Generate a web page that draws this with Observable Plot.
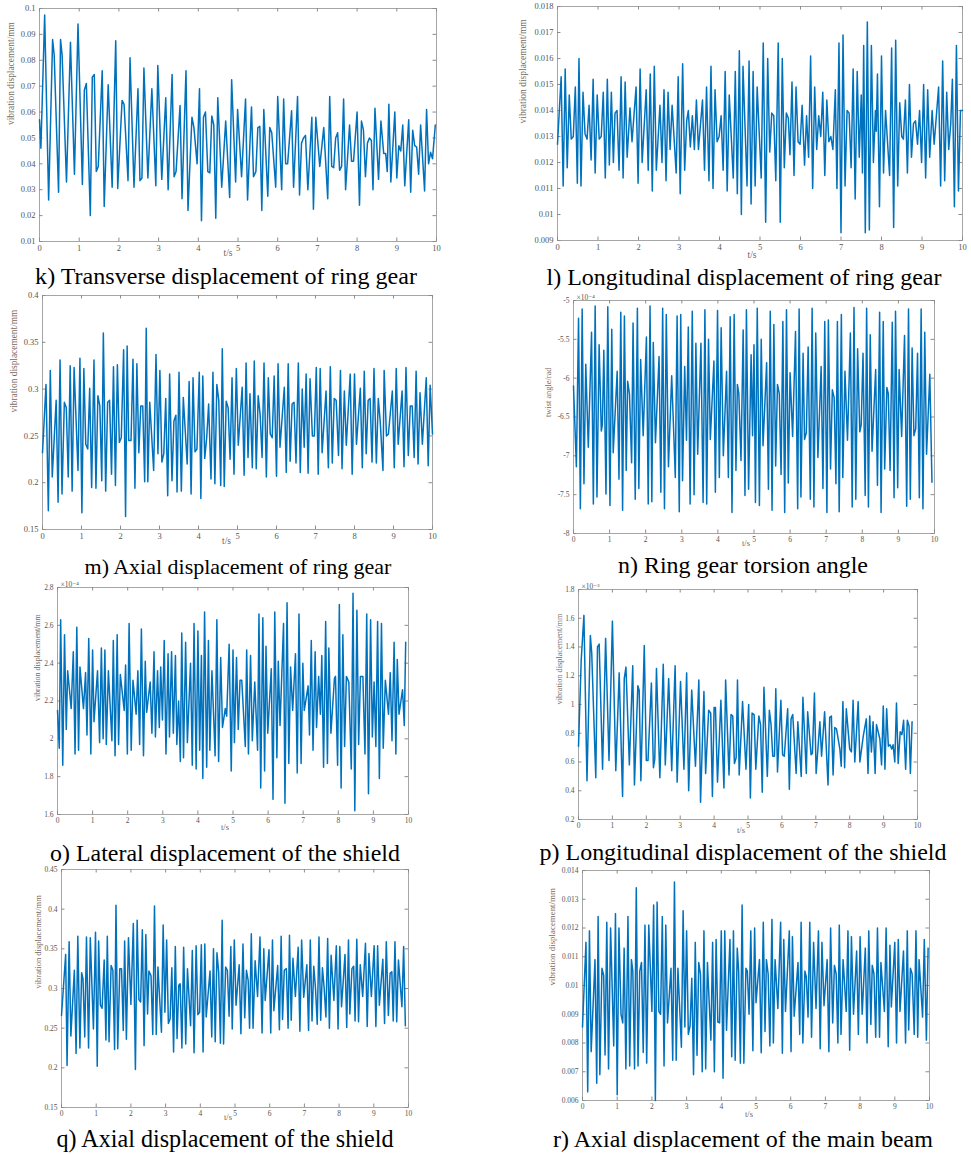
<!DOCTYPE html>
<html>
<head>
<meta charset="utf-8">
<script src="https://cdn.jsdelivr.net/npm/d3@7"></script>
<script src="https://cdn.jsdelivr.net/npm/@observablehq/plot@0.6"></script>
<style>
  html, body { margin: 0; padding: 0; background: #fff; }
  #root { position: relative; width: 971px; height: 1154px; background: #fff; overflow: hidden; }
  .panel { position: absolute; }
  .cap { position: absolute; transform: translate(-50%, -50%); white-space: nowrap;
         font-family: "Liberation Serif", "Times New Roman", "DejaVu Serif", serif; font-size: 24px; color: #000; }
</style>
</head>
<body>
<div id="root"></div>
<script>
// ---------- shared ticks ----------
const xTicks = [0, 1, 2, 3, 4, 5, 6, 7, 8, 9, 10];

// ---------- k) Transverse displacement of ring gear (mm) ----------
const kYTicks = [0.01, 0.02, 0.03, 0.04, 0.05, 0.06, 0.07, 0.08, 0.09, 0.1];
const kData = [[0,0.057],[0.035,0.046],[0.13,0.0975],[0.23,0.026],[0.33,0.088],[0.37,0.082],[0.48,0.029],[0.53,0.088],[0.57,0.082],[0.68,0.033],[0.78,0.087],[0.88,0.036],[0.97,0.094],[1.08,0.032],[1.13,0.0685],[1.18,0.071],[1.28,0.020],[1.33,0.0735],[1.38,0.0745],[1.43,0.037],[1.48,0.039],[1.58,0.076],[1.63,0.0235],[1.73,0.0705],[1.83,0.031],[1.92,0.0875],[1.97,0.0305],[2.08,0.0645],[2.13,0.063],[2.23,0.0335],[2.28,0.081],[2.38,0.031],[2.48,0.069],[2.53,0.0335],[2.58,0.0345],[2.63,0.077],[2.73,0.0345],[2.83,0.069],[2.93,0.0315],[2.98,0.078],[3.08,0.034],[3.18,0.0655],[3.24,0.030],[3.34,0.0745],[3.39,0.035],[3.44,0.037],[3.54,0.0625],[3.59,0.0265],[3.69,0.076],[3.74,0.022],[3.84,0.058],[3.89,0.054],[3.97,0.040],[4.03,0.069],[4.08,0.018],[4.13,0.058],[4.18,0.060],[4.24,0.037],[4.29,0.0365],[4.34,0.0585],[4.39,0.055],[4.44,0.019],[4.49,0.0655],[4.59,0.031],[4.69,0.0565],[4.79,0.027],[4.84,0.0725],[4.94,0.033],[4.99,0.061],[5.09,0.035],[5.19,0.065],[5.24,0.026],[5.34,0.062],[5.39,0.035],[5.45,0.037],[5.5,0.054],[5.55,0.0545],[5.6,0.022],[5.65,0.061],[5.75,0.0275],[5.8,0.054],[5.85,0.052],[5.95,0.031],[6.0,0.066],[6.1,0.030],[6.15,0.065],[6.2,0.040],[6.25,0.040],[6.35,0.0605],[6.4,0.031],[6.5,0.066],[6.55,0.028],[6.6,0.048],[6.65,0.050],[6.7,0.051],[6.76,0.030],[6.86,0.058],[6.9,0.0225],[6.96,0.058],[7.06,0.039],[7.16,0.054],[7.26,0.0265],[7.31,0.066],[7.36,0.039],[7.41,0.0385],[7.46,0.050],[7.51,0.052],[7.56,0.0375],[7.61,0.039],[7.66,0.065],[7.71,0.030],[7.81,0.055],[7.86,0.041],[7.91,0.041],[8.0,0.060],[8.06,0.024],[8.11,0.0565],[8.16,0.053],[8.21,0.035],[8.26,0.048],[8.31,0.050],[8.36,0.049],[8.4,0.030],[8.45,0.0615],[8.54,0.034],[8.6,0.0565],[8.67,0.044],[8.72,0.044],[8.76,0.037],[8.8,0.063],[8.85,0.033],[8.95,0.060],[9.0,0.0345],[9.05,0.047],[9.1,0.045],[9.15,0.055],[9.2,0.0315],[9.3,0.057],[9.35,0.029],[9.4,0.053],[9.45,0.047],[9.5,0.0465],[9.55,0.036],[9.6,0.055],[9.7,0.0295],[9.75,0.061],[9.8,0.040],[9.85,0.0445],[9.9,0.042],[9.97,0.055]];

// ---------- l) Longitudinal displacement of ring gear (mm) ----------
const lYTicks = [0.009, 0.01, 0.011, 0.012, 0.013, 0.014, 0.015, 0.016, 0.017, 0.018];
const lData = [[0,0.0127],[0.09,0.0153],[0.14,0.0111],[0.19,0.0156],[0.24,0.0118],[0.29,0.0146],[0.34,0.0129],[0.39,0.0130],[0.44,0.0149],[0.49,0.0112],[0.53,0.0160],[0.58,0.0111],[0.63,0.0147],[0.68,0.0131],[0.73,0.0129],[0.78,0.0142],[0.83,0.0121],[0.88,0.0152],[0.93,0.0116],[0.98,0.0146],[1.03,0.0129],[1.08,0.0130],[1.13,0.0147],[1.18,0.0114],[1.23,0.0152],[1.28,0.0119],[1.33,0.0147],[1.38,0.0120],[1.42,0.0139],[1.47,0.0140],[1.52,0.0117],[1.57,0.0153],[1.62,0.0114],[1.67,0.0151],[1.72,0.0122],[1.79,0.0141],[1.84,0.0128],[1.94,0.0149],[1.99,0.0112],[2.04,0.0156],[2.09,0.0120],[2.19,0.0148],[2.24,0.0117],[2.29,0.0154],[2.34,0.0109],[2.39,0.0157],[2.44,0.0117],[2.53,0.0142],[2.58,0.0120],[2.63,0.0148],[2.68,0.0113],[2.73,0.0147],[2.78,0.0125],[2.83,0.0142],[2.93,0.0116],[2.98,0.0153],[3.03,0.0108],[3.09,0.0158],[3.14,0.0117],[3.19,0.0136],[3.23,0.0140],[3.28,0.0126],[3.33,0.0138],[3.38,0.0125],[3.43,0.0144],[3.48,0.0125],[3.58,0.0144],[3.63,0.0117],[3.68,0.0149],[3.74,0.0113],[3.79,0.0157],[3.84,0.0110],[3.89,0.0148],[3.94,0.0128],[3.99,0.0130],[4.04,0.0138],[4.09,0.0117],[4.14,0.0155],[4.19,0.0109],[4.24,0.0146],[4.34,0.0114],[4.39,0.0155],[4.44,0.0108],[4.49,0.0163],[4.54,0.0100],[4.58,0.0157],[4.68,0.0111],[4.73,0.0159],[4.78,0.0104],[4.83,0.0155],[4.88,0.0111],[4.93,0.0149],[5.03,0.0114],[5.08,0.0166],[5.14,0.0097],[5.19,0.0160],[5.24,0.0124],[5.29,0.0139],[5.34,0.0138],[5.39,0.0113],[5.45,0.0166],[5.50,0.0097],[5.55,0.0160],[5.60,0.0118],[5.65,0.0139],[5.70,0.0137],[5.74,0.0123],[5.79,0.0151],[5.84,0.0115],[5.89,0.0149],[5.94,0.0128],[5.99,0.0127],[6.04,0.0142],[6.1,0.0119],[6.15,0.0138],[6.2,0.0122],[6.25,0.0161],[6.3,0.0110],[6.35,0.0149],[6.4,0.0125],[6.45,0.0138],[6.5,0.0130],[6.55,0.0147],[6.6,0.0115],[6.65,0.0144],[6.7,0.0128],[6.75,0.0130],[6.8,0.0125],[6.86,0.0148],[6.9,0.0110],[6.95,0.0166],[7.0,0.0093],[7.05,0.0169],[7.1,0.0111],[7.15,0.0140],[7.2,0.0139],[7.25,0.0118],[7.3,0.0156],[7.35,0.0106],[7.4,0.0155],[7.45,0.0122],[7.5,0.0146],[7.53,0.0116],[7.56,0.0165],[7.6,0.0093],[7.65,0.0174],[7.7,0.0094],[7.75,0.0165],[7.8,0.0120],[7.85,0.0140],[7.87,0.0132],[7.9,0.0154],[7.95,0.0103],[8.0,0.0161],[8.05,0.0116],[8.1,0.0140],[8.2,0.0115],[8.25,0.0164],[8.3,0.0095],[8.35,0.0167],[8.4,0.0111],[8.45,0.0143],[8.5,0.0130],[8.54,0.0129],[8.59,0.0144],[8.64,0.0116],[8.69,0.0150],[8.74,0.0122],[8.79,0.0135],[8.84,0.0136],[8.89,0.0127],[8.94,0.0140],[8.99,0.0120],[9.04,0.0150],[9.09,0.0114],[9.14,0.0148],[9.19,0.0122],[9.25,0.0140],[9.3,0.0127],[9.41,0.0149],[9.46,0.0111],[9.51,0.0159],[9.56,0.0113],[9.61,0.0147],[9.66,0.0125],[9.71,0.0135],[9.75,0.0152],[9.8,0.0103],[9.85,0.0165],[9.9,0.0109],[9.95,0.0140],[10,0.0140]];

// ---------- m) Axial displacement of ring gear (mm) ----------
const mYTicks = [0.15, 0.2, 0.25, 0.3, 0.35, 0.4];
const mData = [[0,0.232],[0.09,0.305],[0.15,0.17],[0.2,0.32],[0.25,0.206],[0.35,0.288],[0.4,0.179],[0.45,0.331],[0.5,0.188],[0.56,0.286],[0.61,0.28],[0.66,0.206],[0.71,0.325],[0.76,0.191],[0.81,0.323],[0.91,0.213],[0.96,0.333],[1.01,0.168],[1.06,0.322],[1.11,0.241],[1.16,0.236],[1.21,0.301],[1.26,0.195],[1.32,0.331],[1.37,0.194],[1.42,0.293],[1.47,0.282],[1.52,0.202],[1.56,0.36],[1.62,0.191],[1.67,0.286],[1.72,0.288],[1.77,0.209],[1.82,0.324],[1.87,0.197],[1.92,0.326],[1.97,0.243],[2.02,0.248],[2.08,0.342],[2.13,0.164],[2.17,0.346],[2.21,0.245],[2.27,0.245],[2.32,0.332],[2.37,0.194],[2.42,0.327],[2.47,0.232],[2.52,0.282],[2.57,0.282],[2.62,0.201],[2.66,0.365],[2.7,0.201],[2.75,0.286],[2.85,0.213],[2.91,0.337],[2.96,0.231],[3.01,0.32],[3.06,0.222],[3.11,0.231],[3.16,0.29],[3.21,0.186],[3.26,0.316],[3.32,0.202],[3.37,0.266],[3.42,0.272],[3.45,0.19],[3.5,0.318],[3.56,0.191],[3.61,0.291],[3.71,0.22],[3.76,0.308],[3.81,0.188],[3.86,0.312],[3.91,0.233],[3.96,0.236],[4.02,0.318],[4.06,0.183],[4.11,0.314],[4.16,0.226],[4.21,0.248],[4.26,0.284],[4.32,0.204],[4.37,0.318],[4.42,0.199],[4.47,0.305],[4.52,0.288],[4.57,0.197],[4.61,0.343],[4.66,0.196],[4.71,0.287],[4.76,0.28],[4.81,0.225],[4.86,0.312],[4.91,0.209],[4.97,0.322],[5.02,0.24],[5.12,0.302],[5.17,0.208],[5.22,0.328],[5.27,0.227],[5.32,0.295],[5.38,0.216],[5.43,0.33],[5.48,0.215],[5.53,0.293],[5.58,0.273],[5.63,0.227],[5.68,0.328],[5.74,0.206],[5.79,0.312],[5.84,0.252],[5.89,0.248],[5.94,0.314],[6.0,0.207],[6.04,0.327],[6.09,0.238],[6.2,0.302],[6.25,0.211],[6.3,0.327],[6.35,0.223],[6.4,0.284],[6.45,0.286],[6.5,0.221],[6.56,0.328],[6.61,0.211],[6.66,0.3],[6.71,0.238],[6.76,0.316],[6.81,0.21],[6.86,0.311],[6.92,0.25],[6.97,0.25],[7.02,0.323],[7.07,0.209],[7.12,0.322],[7.17,0.232],[7.27,0.298],[7.33,0.216],[7.38,0.324],[7.43,0.221],[7.48,0.29],[7.53,0.288],[7.59,0.229],[7.64,0.32],[7.68,0.215],[7.74,0.298],[7.79,0.24],[7.89,0.316],[7.94,0.209],[8.0,0.316],[8.05,0.241],[8.15,0.301],[8.2,0.216],[8.25,0.319],[8.3,0.231],[8.35,0.288],[8.4,0.29],[8.45,0.222],[8.5,0.322],[8.56,0.221],[8.61,0.29],[8.66,0.265],[8.73,0.213],[8.76,0.32],[8.82,0.25],[8.87,0.252],[8.97,0.298],[9.02,0.216],[9.07,0.322],[9.12,0.241],[9.22,0.298],[9.27,0.217],[9.32,0.323],[9.38,0.229],[9.43,0.282],[9.48,0.282],[9.53,0.227],[9.58,0.319],[9.63,0.22],[9.68,0.296],[9.74,0.241],[9.84,0.312],[9.89,0.218],[9.94,0.304],[10,0.252]];

// ---------- n) Ring gear torsion angle (rad, x10^-4) ----------
const nYTicks = [-8, -7.5, -7, -6.5, -6, -5.5, -5];
const nData = [[0,-6.10],[0.08,-7.14],[0.14,-5.23],[0.19,-7.68],[0.24,-5.11],[0.29,-7.36],[0.34,-5.82],[0.41,-6.89],[0.5,-5.41],[0.55,-7.62],[0.6,-5.07],[0.65,-7.53],[0.71,-5.57],[0.77,-6.68],[0.8,-6.6],[0.84,-5.64],[0.9,-7.49],[0.95,-5.08],[1.01,-7.64],[1.06,-5.37],[1.1,-6.96],[1.21,-5.91],[1.26,-7.3],[1.31,-5.15],[1.36,-7.7],[1.41,-5.2],[1.46,-7.19],[1.5,-6.04],[1.55,-6.2],[1.61,-7.09],[1.65,-5.29],[1.71,-7.56],[1.77,-5.1],[1.81,-7.42],[1.86,-5.76],[1.93,-6.74],[2.02,-5.47],[2.07,-7.62],[2.12,-5.07],[2.17,-7.59],[2.21,-5.54],[2.27,-6.83],[2.37,-5.72],[2.42,-7.47],[2.47,-5.1],[2.52,-7.68],[2.57,-5.18],[2.63,-7.14],[2.72,-5.97],[2.82,-7.28],[2.87,-5.2],[2.93,-7.72],[2.97,-5.18],[3.02,-7.32],[3.08,-5.85],[3.13,-6.8],[3.18,-5.34],[3.23,-7.62],[3.29,-5.14],[3.34,-7.5],[3.39,-5.55],[3.44,-6.98],[3.53,-5.55],[3.59,-7.6],[3.64,-5.12],[3.69,-7.62],[3.74,-5.5],[3.79,-6.79],[3.89,-5.78],[3.93,-7.47],[3.99,-5.13],[4.04,-7.28],[4.09,-5.35],[4.15,-7.0],[4.24,-5.91],[4.29,-7.28],[4.34,-5.21],[4.39,-7.73],[4.45,-5.18],[4.5,-7.19],[4.54,-6.08],[4.58,-6.2],[4.64,-7.06],[4.7,-5.38],[4.75,-7.51],[4.79,-5.12],[4.85,-7.43],[4.92,-5.7],[4.96,-6.74],[5.0,-5.57],[5.04,-7.6],[5.09,-5.1],[5.15,-7.64],[5.2,-5.5],[5.25,-6.87],[5.35,-5.8],[5.4,-7.43],[5.45,-5.14],[5.5,-7.7],[5.55,-5.31],[5.6,-7.13],[5.65,-6.08],[5.7,-6.2],[5.75,-7.24],[5.8,-5.27],[5.85,-7.73],[5.9,-5.12],[5.95,-7.35],[6.0,-5.93],[6.07,-6.75],[6.15,-5.4],[6.21,-7.68],[6.25,-5.11],[6.3,-7.53],[6.36,-5.68],[6.4,-6.79],[6.45,-6.7],[6.5,-5.6],[6.56,-7.56],[6.61,-5.1],[6.66,-7.66],[6.71,-5.42],[6.77,-7.02],[6.86,-5.85],[6.91,-7.42],[6.96,-5.27],[7.02,-7.73],[7.06,-5.25],[7.12,-7.17],[7.17,-6.15],[7.22,-6.25],[7.27,-7.36],[7.31,-5.27],[7.36,-7.72],[7.42,-5.18],[7.46,-7.28],[7.52,-5.91],[7.59,-6.8],[7.67,-5.42],[7.72,-7.66],[7.77,-5.09],[7.82,-7.56],[7.87,-5.62],[7.93,-6.69],[7.97,-6.6],[8.02,-5.68],[8.08,-7.51],[8.12,-5.1],[8.17,-7.66],[8.22,-5.44],[8.27,-6.94],[8.37,-5.89],[8.42,-7.38],[8.48,-5.15],[8.52,-7.73],[8.58,-5.27],[8.62,-7.17],[8.68,-6.12],[8.72,-6.2],[8.77,-7.19],[8.83,-5.28],[8.88,-7.54],[8.92,-5.14],[8.98,-7.41],[9.02,-5.89],[9.09,-6.75],[9.17,-5.45],[9.23,-7.65],[9.28,-5.11],[9.33,-7.56],[9.38,-5.61],[9.43,-6.74],[9.48,-6.65],[9.53,-5.68],[9.58,-7.54],[9.63,-5.11],[9.68,-7.68],[9.73,-5.41],[9.78,-6.98],[9.87,-5.95],[9.93,-7.34]];

// ---------- o) Lateral displacement of the shield (mm, x10^-4) ----------
const oYTicks = [1.6, 1.8, 2, 2.2, 2.4, 2.6, 2.8];
const oData = [[0,2.15],[0.05,1.95],[0.09,2.63],[0.15,1.86],[0.2,2.55],[0.25,2.05],[0.29,2.36],[0.39,2.16],[0.45,2.46],[0.5,1.92],[0.55,2.59],[0.6,1.94],[0.64,2.38],[0.74,2.16],[0.8,2.35],[0.84,2.02],[0.89,2.53],[0.95,1.92],[1.0,2.47],[1.04,2.09],[1.14,2.36],[1.2,1.98],[1.25,2.48],[1.3,2.0],[1.35,2.47],[1.39,1.97],[1.45,2.36],[1.55,1.99],[1.59,2.52],[1.64,1.91],[1.7,2.55],[1.74,1.97],[1.79,2.34],[1.9,2.15],[1.94,2.39],[1.99,1.92],[2.04,2.61],[2.1,1.94],[2.15,2.31],[2.24,2.13],[2.29,2.36],[2.34,1.97],[2.39,2.58],[2.45,1.91],[2.5,2.41],[2.54,2.14],[2.64,2.3],[2.69,2.03],[2.75,2.46],[2.79,2.01],[2.85,2.36],[2.9,2.06],[2.94,2.38],[2.99,2.1],[3.04,2.52],[3.09,1.92],[3.15,2.45],[3.19,2.01],[3.25,2.46],[3.3,2.03],[3.36,2.44],[3.4,1.97],[3.45,2.2],[3.5,1.88],[3.54,2.56],[3.59,1.9],[3.65,2.51],[3.7,1.98],[3.79,2.4],[3.84,1.86],[3.89,2.61],[3.95,1.84],[4.0,2.57],[4.05,1.94],[4.1,2.44],[4.14,1.79],[4.19,2.67],[4.25,1.85],[4.3,2.52],[4.34,1.94],[4.4,2.36],[4.49,1.91],[4.54,2.63],[4.59,1.88],[4.65,2.43],[4.7,2.06],[4.78,2.16],[4.82,2.12],[4.89,2.5],[4.95,1.83],[5.0,2.47],[5.04,1.98],[5.1,2.43],[5.15,2.05],[5.2,2.31],[5.25,2.31],[5.35,1.96],[5.39,2.47],[5.44,1.92],[5.5,2.44],[5.55,1.99],[5.62,2.3],[5.7,1.94],[5.74,2.66],[5.79,1.74],[5.85,2.64],[5.9,1.83],[5.94,2.49],[5.99,2.03],[6.09,2.37],[6.14,1.68],[6.19,2.67],[6.25,1.9],[6.29,2.41],[6.34,2.07],[6.44,2.61],[6.48,1.66],[6.54,2.72],[6.59,1.87],[6.64,2.38],[6.7,2.15],[6.78,2.45],[6.83,1.82],[6.88,2.66],[6.94,1.87],[6.99,2.4],[7.03,2.15],[7.14,2.28],[7.18,2.02],[7.23,2.52],[7.28,1.94],[7.34,2.46],[7.38,2.06],[7.44,2.33],[7.49,2.13],[7.53,2.44],[7.58,1.85],[7.64,2.62],[7.69,1.87],[7.73,2.48],[7.79,2.03],[7.89,2.32],[7.92,2.33],[7.98,1.86],[8.03,2.71],[8.08,1.74],[8.13,2.55],[8.18,1.96],[8.23,2.33],[8.3,2.3],[8.37,1.84],[8.42,2.77],[8.47,1.62],[8.53,2.68],[8.58,1.97],[8.63,2.33],[8.7,2.33],[8.76,1.92],[8.81,2.66],[8.86,1.71],[8.92,2.63],[8.97,2.01],[9.02,2.3],[9.07,1.96],[9.12,2.62],[9.17,1.79],[9.23,2.61],[9.28,1.95],[9.34,2.31],[9.43,2.13],[9.48,2.35],[9.53,1.99],[9.59,2.51],[9.64,1.92],[9.68,2.42],[9.73,2.13],[9.83,2.26],[9.88,2.07],[9.92,2.51]];

// ---------- p) Longitudinal displacement of the shield (mm, x10^-3) ----------
const pYTicks = [0.2, 0.4, 0.6, 0.8, 1, 1.2, 1.4, 1.6, 1.8];
const pData = [[0,0.71],[0.08,1.31],[0.16,1.62],[0.25,0.47],[0.35,1.48],[0.39,1.36],[0.51,0.49],[0.56,1.40],[0.61,1.42],[0.71,0.55],[0.8,1.46],[0.9,0.61],[1.0,1.58],[1.1,0.54],[1.2,1.22],[1.3,0.36],[1.35,1.18],[1.4,1.26],[1.5,0.58],[1.6,1.27],[1.65,0.44],[1.75,1.13],[1.79,1.10],[1.84,0.47],[1.94,1.41],[2.0,0.61],[2.05,0.61],[2.15,1.15],[2.21,0.56],[2.25,0.62],[2.3,1.25],[2.4,0.49],[2.5,1.28],[2.56,0.58],[2.66,1.18],[2.75,0.54],[2.85,1.27],[2.91,0.46],[3.01,1.16],[3.11,0.55],[3.19,1.22],[3.25,0.40],[3.34,1.10],[3.45,0.57],[3.55,1.17],[3.6,0.32],[3.7,1.09],[3.75,0.52],[3.84,0.96],[3.9,0.94],[3.95,0.36],[4.0,0.98],[4.04,0.98],[4.1,0.46],[4.2,1.03],[4.29,0.42],[4.34,1.17],[4.44,0.51],[4.5,0.93],[4.55,0.92],[4.6,0.59],[4.65,0.63],[4.69,1.17],[4.74,0.51],[4.84,1.02],[4.94,0.55],[5.02,1.0],[5.07,0.35],[5.12,0.94],[5.18,0.93],[5.23,0.55],[5.32,0.92],[5.37,0.86],[5.42,0.39],[5.47,1.12],[5.57,0.5],[5.63,0.96],[5.68,0.86],[5.73,0.64],[5.78,0.64],[5.82,1.11],[5.87,0.53],[5.97,1.03],[6.02,0.65],[6.07,0.64],[6.17,0.97],[6.22,0.41],[6.27,0.9],[6.32,0.93],[6.42,0.52],[6.47,0.88],[6.57,0.5],[6.62,1.05],[6.72,0.52],[6.76,0.95],[6.86,0.65],[6.9,0.66],[6.96,1.08],[7.01,0.52],[7.12,0.88],[7.17,0.64],[7.26,0.95],[7.36,0.44],[7.41,0.91],[7.46,0.92],[7.51,0.51],[7.56,0.84],[7.61,0.83],[7.71,0.69],[7.75,0.57],[7.8,1.02],[7.85,0.56],[7.9,0.97],[8.0,0.69],[8.05,0.67],[8.1,1.03],[8.15,0.6],[8.25,1.02],[8.3,0.6],[8.4,0.78],[8.49,0.9],[8.54,0.52],[8.59,0.92],[8.64,0.67],[8.69,0.88],[8.75,0.52],[8.79,0.86],[8.89,0.76],[8.94,0.58],[8.99,0.99],[9.04,0.55],[9.09,0.97],[9.14,0.71],[9.19,0.72],[9.24,0.69],[9.28,0.72],[9.33,0.6],[9.38,1.01],[9.43,0.59],[9.49,0.81],[9.54,0.79],[9.59,0.89],[9.65,0.55],[9.7,0.89],[9.75,0.85],[9.79,0.52],[9.84,0.88]];

// ---------- q) Axial displacement of the shield (mm) ----------
const qYTicks = [0.15, 0.2, 0.25, 0.3, 0.35, 0.4, 0.45];
const qData = [[0,0.266],[0.12,0.343],[0.16,0.203],[0.22,0.359],[0.27,0.24],[0.37,0.323],[0.42,0.218],[0.47,0.366],[0.53,0.225],[0.58,0.32],[0.62,0.312],[0.67,0.239],[0.72,0.365],[0.78,0.225],[0.83,0.364],[0.92,0.249],[0.98,0.371],[1.03,0.202],[1.07,0.36],[1.12,0.279],[1.17,0.275],[1.23,0.336],[1.28,0.235],[1.32,0.366],[1.37,0.233],[1.43,0.329],[1.48,0.323],[1.53,0.223],[1.57,0.405],[1.62,0.224],[1.68,0.325],[1.73,0.325],[1.78,0.247],[1.82,0.36],[1.87,0.236],[1.93,0.364],[2.0,0.28],[2.07,0.382],[2.13,0.198],[2.18,0.386],[2.23,0.286],[2.28,0.283],[2.33,0.374],[2.38,0.228],[2.43,0.368],[2.48,0.268],[2.52,0.322],[2.58,0.316],[2.63,0.242],[2.68,0.404],[2.73,0.242],[2.78,0.327],[2.88,0.245],[2.93,0.38],[2.98,0.27],[3.03,0.361],[3.08,0.256],[3.13,0.262],[3.18,0.326],[3.23,0.22],[3.28,0.353],[3.33,0.237],[3.38,0.304],[3.42,0.306],[3.47,0.225],[3.52,0.352],[3.58,0.23],[3.63,0.325],[3.72,0.253],[3.77,0.348],[3.82,0.219],[3.88,0.354],[3.93,0.267],[3.98,0.27],[4.03,0.355],[4.08,0.22],[4.13,0.356],[4.17,0.264],[4.28,0.322],[4.33,0.239],[4.38,0.35],[4.43,0.233],[4.48,0.345],[4.53,0.32],[4.58,0.231],[4.63,0.386],[4.67,0.23],[4.73,0.327],[4.78,0.323],[4.83,0.265],[4.88,0.353],[4.92,0.249],[4.98,0.361],[5.03,0.279],[5.12,0.33],[5.17,0.243],[5.23,0.356],[5.28,0.263],[5.33,0.323],[5.38,0.31],[5.42,0.25],[5.47,0.369],[5.52,0.25],[5.58,0.335],[5.65,0.29],[5.72,0.365],[5.78,0.244],[5.83,0.35],[5.87,0.285],[5.98,0.349],[6.03,0.244],[6.08,0.361],[6.12,0.272],[6.23,0.329],[6.28,0.248],[6.33,0.366],[6.37,0.261],[6.42,0.323],[6.48,0.325],[6.53,0.25],[6.57,0.367],[6.62,0.26],[6.67,0.338],[6.74,0.29],[6.82,0.352],[6.87,0.246],[6.92,0.361],[6.98,0.289],[7.07,0.33],[7.12,0.247],[7.17,0.361],[7.22,0.259],[7.27,0.328],[7.32,0.3],[7.37,0.255],[7.42,0.365],[7.47,0.26],[7.52,0.326],[7.57,0.3],[7.62,0.264],[7.67,0.363],[7.72,0.25],[7.77,0.342],[7.85,0.285],[7.92,0.354],[7.97,0.249],[8.02,0.353],[8.07,0.277],[8.17,0.343],[8.22,0.251],[8.27,0.361],[8.31,0.268],[8.37,0.325],[8.42,0.328],[8.46,0.259],[8.51,0.362],[8.56,0.258],[8.61,0.33],[8.68,0.29],[8.76,0.357],[8.81,0.252],[8.86,0.344],[8.93,0.29],[9.01,0.354],[9.06,0.252],[9.11,0.354],[9.16,0.279],[9.26,0.337],[9.31,0.256],[9.36,0.359],[9.42,0.266],[9.47,0.319],[9.52,0.321],[9.56,0.259],[9.61,0.359],[9.66,0.258],[9.71,0.336],[9.81,0.277],[9.86,0.353],[9.91,0.253]];

// ---------- r) Axial displacement of the main beam (mm) ----------
const rYTicks = [0.006, 0.007, 0.008, 0.009, 0.01, 0.011, 0.012, 0.013, 0.014];
const rData = [[0,0.00856],[0.1,0.0115],[0.15,0.0063],[0.2,0.0119],[0.25,0.0077],[0.36,0.0109],[0.41,0.0066],[0.45,0.0124],[0.5,0.0069],[0.56,0.0106],[0.61,0.01035],[0.65,0.00758],[0.7,0.0122],[0.75,0.0071],[0.81,0.012],[0.9,0.0079],[0.95,0.0125],[1.0,0.0062],[1.05,0.012],[1.11,0.009],[1.16,0.0087],[1.2,0.0113],[1.25,0.0071],[1.31,0.0124],[1.36,0.0072],[1.41,0.0109],[1.45,0.0105],[1.5,0.0071],[1.55,0.0134],[1.6,0.0072],[1.65,0.0105],[1.7,0.0108],[1.75,0.00767],[1.8,0.0121],[1.85,0.0073],[1.91,0.0121],[2.0,0.0091],[2.05,0.0128],[2.1,0.006],[2.15,0.0129],[2.2,0.0091],[2.25,0.009],[2.3,0.0124],[2.35,0.0072],[2.4,0.0121],[2.45,0.0087],[2.55,0.0106],[2.6,0.0074],[2.65,0.0136],[2.7,0.0074],[2.75,0.0106],[2.85,0.00785],[2.9,0.0126],[2.95,0.00856],[3.0,0.0119],[3.05,0.0083],[3.1,0.0086],[3.15,0.01025],[3.2,0.0069],[3.25,0.0115],[3.3,0.00757],[3.35,0.0108],[3.4,0.0104],[3.45,0.007],[3.5,0.0119],[3.55,0.0071],[3.6,0.0108],[3.7,0.0081],[3.75,0.0115],[3.8,0.007],[3.85,0.0116],[3.9,0.00873],[3.95,0.0087],[4.0,0.0119],[4.05,0.00677],[4.1,0.0119],[4.15,0.00844],[4.25,0.0116],[4.3,0.00752],[4.35,0.0119],[4.4,0.0074],[4.46,0.0113],[4.5,0.0105],[4.55,0.0073],[4.6,0.0128],[4.65,0.0073],[4.71,0.0106],[4.75,0.0105],[4.8,0.009],[4.85,0.0119],[4.91,0.00773],[4.96,0.012],[5.0,0.0094],[5.1,0.0109],[5.15,0.00766],[5.21,0.0122],[5.26,0.0084],[5.3,0.0109],[5.35,0.0104],[5.4,0.0079],[5.46,0.0123],[5.5,0.008],[5.55,0.0109],[5.63,0.0092],[5.71,0.0122],[5.76,0.00764],[5.8,0.0116],[5.85,0.0091],[5.96,0.0119],[6.01,0.0077],[6.05,0.0117],[6.1,0.00893],[6.21,0.0108],[6.26,0.0083],[6.3,0.0122],[6.35,0.008],[6.41,0.0105],[6.45,0.0103],[6.5,0.0089],[6.55,0.0122],[6.6,0.0082],[6.66,0.0115],[6.73,0.0092],[6.8,0.0119],[6.85,0.0078],[6.9,0.0115],[6.96,0.0093],[7.05,0.0109],[7.1,0.0077],[7.15,0.012],[7.21,0.0087],[7.26,0.0107],[7.31,0.0104],[7.36,0.008],[7.4,0.0121],[7.45,0.0083],[7.51,0.0109],[7.6,0.0091],[7.65,0.0119],[7.7,0.00775],[7.75,0.0117],[7.81,0.009],[7.9,0.0112],[7.95,0.0083],[8.0,0.0117],[8.06,0.009],[8.15,0.0113],[8.2,0.008],[8.25,0.0119],[8.31,0.00864],[8.35,0.0107],[8.4,0.0104],[8.45,0.0082],[8.5,0.012],[8.56,0.0082],[8.6,0.0108],[8.7,0.0091],[8.75,0.012],[8.81,0.00787],[8.86,0.0114],[8.9,0.00925],[9.0,0.0115],[9.05,0.008],[9.1,0.0116],[9.15,0.0091],[9.25,0.0112],[9.31,0.008],[9.36,0.0119],[9.4,0.00845],[9.45,0.0106],[9.5,0.0104],[9.56,0.0083],[9.61,0.0119],[9.66,0.0082],[9.7,0.0109],[9.8,0.0089],[9.85,0.0116],[9.91,0.0081],[9.96,0.0113]];

// ---------- text ----------
const yLabelDisp = "vibration displacement/mm";
const yLabelTwist = "twist angle/rad";
const xLabel = "t/s";
const captions = [
  "k) Transverse displacement of ring gear",
  "l) Longitudinal displacement of ring gear",
  "m) Axial displacement of ring gear",
  "n) Ring gear torsion angle",
  "o) Lateral displacement of the shield",
  "p) Longitudinal displacement of the shield",
  "q) Axial displacement of the shield",
  "r) Axial displacement of the main beam"
];

// ---------- layout (positions / styles only) ----------
const layout = [
  {data: kData, yTicks: kYTicks, yLabel: yLabelDisp, exp: null,      box: [39, 8, 436, 241],   cx: 226, cy: 276, capW: 382, labDx: -29, labFs: 9.4, tickFs: 8.5, xlDy: 14, xlDx: -10},
  {data: lData, yTicks: lYTicks, yLabel: yLabelDisp, exp: null,      box: [557, 6, 962, 240],  cx: 744, cy: 277, capW: 395, labDx: -35, labFs: 9.5, tickFs: 8.5, xlDy: 17, xlDx: -8},
  {data: mData, yTicks: mYTicks, yLabel: yLabelDisp, exp: null,      box: [42, 295, 432, 529], cx: 238, cy: 567, capW: 307, labDx: -29, labFs: 9.4, tickFs: 8.5, xlDy: 14, xlDx: -11},
  {data: nData, yTicks: nYTicks, yLabel: yLabelTwist, exp: "×10⁻⁴",  box: [573, 300, 934, 533], cx: 743, cy: 565, capW: 250, labDx: -25, labFs: 8.4, tickFs: 7.5, xlDy: 12, xlDx: -8},
  {data: oData, yTicks: oYTicks, yLabel: yLabelDisp, exp: "×10⁻⁴",  box: [57, 587, 408, 814], cx: 225, cy: 853, capW: 350, labDx: -20, labFs: 7.9, tickFs: 7.5, xlDy: 15, xlDx: -8},
  {data: pData, yTicks: pYTicks, yLabel: yLabelDisp, exp: "×10⁻³",  box: [578, 589, 917, 819], cx: 743, cy: 852, capW: 407, labDx: -19, labFs: 8.3, tickFs: 7.5, xlDy: 13, xlDx: -7},
  {data: qData, yTicks: qYTicks, yLabel: yLabelDisp, exp: null,      box: [61, 869, 408, 1107], cx: 225, cy: 1139, capW: 337, labDx: -23, labFs: 8.5, tickFs: 7.5, xlDy: 12, xlDx: -7},
  {data: rData, yTicks: rYTicks, yLabel: yLabelDisp, exp: null,      box: [582, 870, 929, 1100], cx: 743, cy: 1139, capW: 380, labDx: -30, labFs: 8.9, tickFs: 7.5, xlDy: 16, xlDx: -7}
];

const root = document.getElementById("root");
const fmt = d => String(+(+d).toFixed(6));
const serif = "'Liberation Serif','Times New Roman','DejaVu Serif',serif";

layout.forEach((p, i) => {
  const [x0, y0, x1, y1] = p.box;
  const ML = 48, MR = 6, MT = 14, MB = 26;
  const w = x1 - x0 + ML + MR, h = y1 - y0 + MT + MB;
  const yd = [p.yTicks[0], p.yTicks[p.yTicks.length - 1]];
  const ty = (yd[1] - yd[0]) * 3.5 / (y1 - y0);
  const tx = 10 * 3.5 / (x1 - x0);
  const tickColor = "#8c8c8c";
  const marks = [
    Plot.frame({stroke: "#a6a6a6", strokeWidth: 1}),
    Plot.ruleX(xTicks, {x: d => d, y1: yd[0], y2: yd[0] + ty, stroke: tickColor}),
    Plot.ruleX(xTicks, {x: d => d, y1: yd[1], y2: yd[1] - ty, stroke: tickColor}),
    Plot.ruleY(p.yTicks, {y: d => d, x1: 0, x2: tx, stroke: tickColor}),
    Plot.ruleY(p.yTicks, {y: d => d, x1: 10, x2: 10 - tx, stroke: tickColor}),
    Plot.axisX(xTicks, {tickSize: 0, tickPadding: 3, label: null, tickFormat: fmt, fontSize: p.tickFs, fill: "#555"}),
    Plot.axisY(p.yTicks, {tickSize: 0, tickPadding: 4, label: null, tickFormat: fmt, fontSize: p.tickFs, fill: "#555"}),
    Plot.line(p.data, {x: d => d[0], y: d => d[1], stroke: "#0072BD", strokeWidth: 1.5}),
    Plot.text([xLabel], {text: d => d, frameAnchor: "bottom", dy: p.xlDy, dx: p.xlDx, fill: "#6f625a", fontSize: p.tickFs + 1}),
    Plot.text([p.yLabel], {text: d => d, frameAnchor: "left", dx: p.labDx, rotate: -90, fill: "#7a6a60", fontSize: p.labFs})
  ];
  if (p.exp) marks.push(Plot.text([p.exp], {text: d => d, frameAnchor: "top-left", dy: -6, dx: 3, textAnchor: "start", fill: "#555", fontSize: 7.5}));
  const svg = Plot.plot({
    width: w, height: h,
    marginLeft: ML, marginRight: MR, marginTop: MT, marginBottom: MB,
    x: {domain: [0, 10]},
    y: {domain: yd},
    style: {fontFamily: serif, fontSize: p.tickFs + "px", color: "#555", background: "transparent", overflow: "visible"},
    marks
  });
  const holder = document.createElement("div");
  holder.className = "panel";
  holder.style.left = (x0 - ML) + "px";
  holder.style.top = (y0 - MT) + "px";
  holder.appendChild(svg);
  root.appendChild(holder);

  const cap = document.createElement("div");
  cap.className = "cap";
  cap.style.left = p.cx + "px";
  cap.style.top = p.cy + "px";
  cap.textContent = captions[i];
  root.appendChild(cap);
  // fit caption width to the reference's measured width
  const w0 = cap.getBoundingClientRect().width;
  if (w0 > 0) cap.style.fontSize = (24 * p.capW / w0).toFixed(2) + "px";
});
</script>
</body>
</html>
